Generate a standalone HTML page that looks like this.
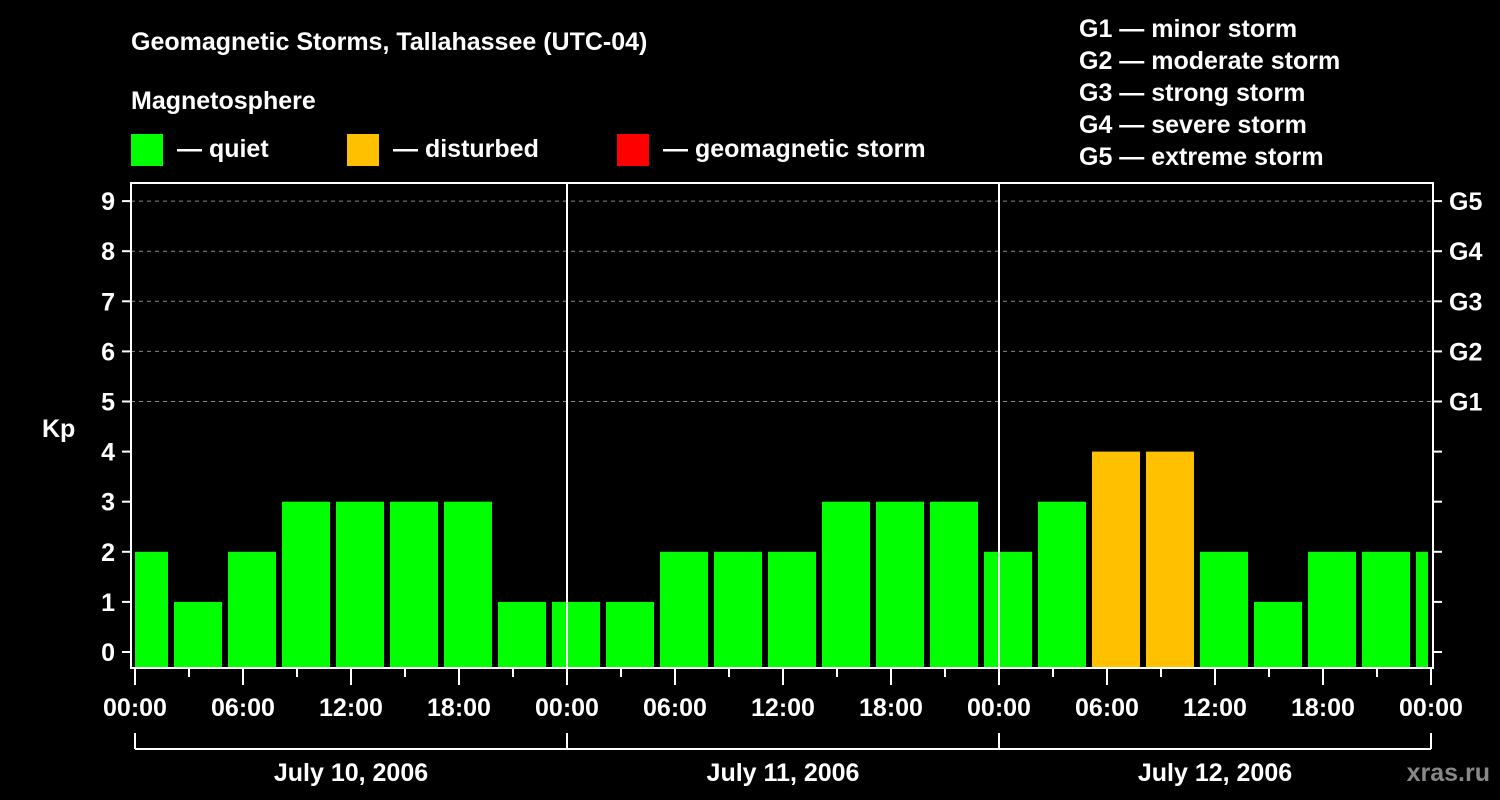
<!DOCTYPE html>
<html><head><meta charset="utf-8"><style>
html,body{margin:0;padding:0;background:#000;}
svg{display:block;font-family:"Liberation Sans",sans-serif;font-weight:bold;}
</style></head><body>
<svg id="c" width="1500" height="800" viewBox="0 0 1500 800">
<rect width="1500" height="800" fill="#000"/>
<text x="131" y="50" fill="#fff" font-size="25">Geomagnetic Storms, Tallahassee (UTC-04)</text>
<text x="131" y="109" fill="#fff" font-size="25">Magnetosphere</text>
<g><rect x="131" y="134" width="32" height="32" fill="#00ff00"/><text x="177" y="157" fill="#fff" font-size="25">— quiet</text></g>
<g><rect x="347" y="134" width="32" height="32" fill="#ffc000"/><text x="393" y="157" fill="#fff" font-size="25">— disturbed</text></g>
<g><rect x="617" y="134" width="32" height="32" fill="#ff0000"/><text x="663" y="157" fill="#fff" font-size="25">— geomagnetic storm</text></g>
<g fill="#fff" font-size="25">
<text x="1079" y="37">G1 — minor storm</text>
<text x="1079" y="69">G2 — moderate storm</text>
<text x="1079" y="101">G3 — strong storm</text>
<text x="1079" y="133">G4 — severe storm</text>
<text x="1079" y="165">G5 — extreme storm</text>
</g>
<text x="42" y="437" fill="#fff" font-size="25">Kp</text>
<text x="1490" y="781" fill="#888" font-size="25" text-anchor="end">xras.ru</text>
<g id="plot"></g>
</svg>
<script>
const kpValues=[2,1,2,3,3,3,3,1, 1,1,2,2,2,3,3,3, 2,3,4,4,2,1,2,2, 2];
const yTicks=[0,1,2,3,4,5,6,7,8,9];
const gLabels=["","","","","","G1","G2","G3","G4","G5"];
const xLabels=["00:00","06:00","12:00","18:00","00:00","06:00","12:00","18:00","00:00","06:00","12:00","18:00","00:00"];
const dayLabels=["July 10, 2006","July 11, 2006","July 12, 2006"];
const NS="http://www.w3.org/2000/svg";
const g=document.getElementById('plot');
const x0=135,pxH=18,L=131,R=1433,T=183,B=668;
const xs=h=>x0+h*pxH;
const ys=k=>652-50.1*k;
function el(t,a,txt){const e=document.createElementNS(NS,t);for(const k in a)e.setAttribute(k,a[k]);if(txt!==undefined)e.textContent=txt;g.appendChild(e);return e;}
// gridlines
yTicks.forEach(k=>{
  if(k>=5){const e=el('line',{x1:L,x2:R,y1:ys(k),y2:ys(k),stroke:'#888','stroke-dasharray':'4,4','stroke-width':1});
  
  }
});
// bars
kpValues.forEach((v,i)=>{
  let a=xs(i*3)-15,b=a+48;
  a=Math.max(a,x0);b=Math.min(b,1428);
  const col=v>=5?'#ff0000':(v>=4?'#ffc000':'#00ff00');
  const r=el('rect',{x:a,y:ys(v),width:b-a,height:B-ys(v),fill:col});
  
  
});
// day separators
[1,2].forEach(d=>{const e=el('line',{x1:xs(d*24),x2:xs(d*24),y1:T,y2:B,stroke:'#fff','stroke-width':2});

});
// frame
const f=el('rect',{x:L,y:T,width:R-L,height:B-T,fill:'none',stroke:'#fff','stroke-width':2});


// y ticks
yTicks.forEach(k=>{
  const y=ys(k);
  el('line',{x1:122,x2:L,y1:y,y2:y,stroke:'#fff','stroke-width':2});
  el('line',{x1:R,x2:1442,y1:y,y2:y,stroke:'#fff','stroke-width':2});
  const t=el('text',{x:115,y:y+9,fill:'#fff','font-size':25,'text-anchor':'end'},String(k));
  
  
  if(gLabels[k]){const t2=el('text',{x:1449,y:y+9,fill:'#fff','font-size':25},gLabels[k]);
  
  }
});
// x ticks
for(let h=0;h<=72;h+=3){
  const x=xs(h),major=h%6===0;
  el('line',{x1:x,x2:x,y1:B,y2:major?685:677,stroke:'#fff','stroke-width':2});
}
xLabels.forEach((s,i)=>{const t=el('text',{x:xs(i*6),y:716,fill:'#fff','font-size':25,'text-anchor':'middle'},s);

});
// day brackets
el('line',{x1:xs(0),x2:xs(72),y1:749,y2:749,stroke:'#fff','stroke-width':2});
for(let d=0;d<=3;d++)el('line',{x1:xs(d*24),x2:xs(d*24),y1:733,y2:749,stroke:'#fff','stroke-width':2});
dayLabels.forEach((s,i)=>{const t=el('text',{x:xs(i*24+12),y:781,fill:'#fff','font-size':25,'text-anchor':'middle'},s);

});
</script>
</body></html>
